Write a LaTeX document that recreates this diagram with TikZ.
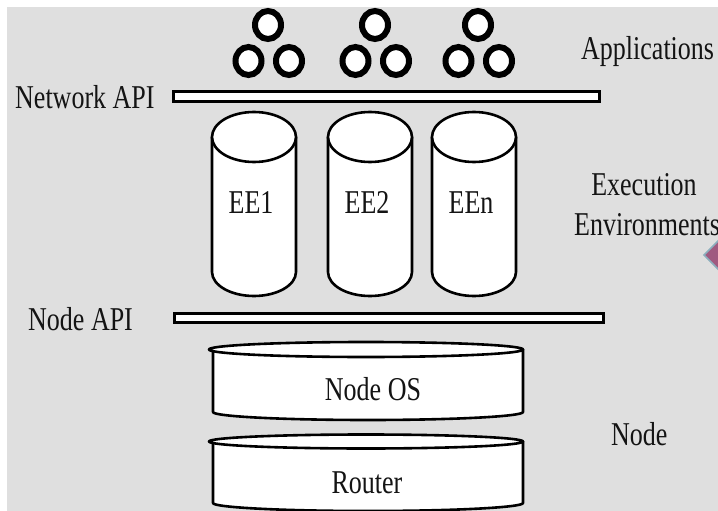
\documentclass[tikz,border=0pt]{standalone}
\usepackage{fontspec}
\setmainfont{Liberation Serif}
\definecolor{bggray}{RGB}{223,223,223}
\definecolor{txtc}{RGB}{20,20,20}
\definecolor{mauve}{RGB}{160,90,128}
\definecolor{mauveedge}{RGB}{140,175,190}
\newcommand{\tallt}[1]{\scalebox{1}[1.28]{#1}}
\tikzset{
  lbl/.style={inner sep=0pt, text=txtc, font=\fontsize{26}{30}\selectfont},
  ring/.style={draw=black, line width=6pt, fill=white},
  apibar/.style={draw=black, line width=3pt, fill=white},
  cyl/.style={draw=black, line width=2.6pt, fill=white, line join=round},
}
\begin{document}
\begin{tikzpicture}[x=1pt,y=-1pt]
\useasboundingbox (0,0) rectangle (718,511);
\fill[white] (0,0) rectangle (718,511);
\fill[bggray] (7,7) rectangle (718,511);
% pink diamond at right edge
\begin{scope}
\clip (0,0) rectangle (718,511);
\fill[black!25] (706,258) -- (724,240) -- (742,258) -- (724,276) -- cycle;
\filldraw[fill=mauve, draw=mauveedge, line width=1.5pt] (704,255) -- (722,237) -- (740,255) -- (722,273) -- cycle;
\end{scope}
% application groups
\foreach \dx in {0,107,210}{
  \draw[ring] (268+\dx,25) ellipse [x radius=13, y radius=14];
  \draw[ring] (248.5+\dx,61) ellipse [x radius=13, y radius=14];
  \draw[ring] (289+\dx,61) ellipse [x radius=13, y radius=14];
}
% Network API bar
\node[lbl, anchor=base west] (napi) at (15,108) {\tallt{Network API}};
\draw[apibar] (173.5,91.5) rectangle (599.5,102);
\node[lbl, anchor=base west] (apps) at (581,60) {\tallt{Applications}};
% EE cylinders
\foreach \cx/\nm/\lab in {254/ee1/EE1, 370/ee2/EE2, 474/een/EEn}{
  \path[cyl] (\cx-42,137) -- (\cx-42,272) arc[start angle=180, end angle=0, x radius=42, y radius=24] -- (\cx+42,137) -- cycle;
  \draw[cyl] (\cx,137) ellipse [x radius=42, y radius=25];
  \node[lbl, anchor=base] (\nm) at (\cx-3,213) {\tallt{\lab}};
}
\node[lbl, anchor=base] (exe1) at (644,195) {\tallt{Execution}};
\node[lbl, anchor=base west] (exe2) at (574,235) {\tallt{Environments}};
% Node API bar
\node[lbl, anchor=base west] (ndapi) at (28,330) {\tallt{Node API}};
\draw[apibar] (174,313.5) rectangle (603,322);
% Node OS cylinder
\path[cyl] (213,349.5) -- (213,412) arc[start angle=180, end angle=0, x radius=155, y radius=8] -- (523,349.5) -- cycle;
\draw[cyl] (366,349.5) ellipse [x radius=157, y radius=7.5];
\node[lbl, anchor=base] (nos) at (373,400) {\tallt{Node OS}};
% Router cylinder
\path[cyl] (213,441.5) -- (213,503) arc[start angle=180, end angle=0, x radius=155, y radius=8] -- (523,441.5) -- cycle;
\draw[cyl] (366,441.5) ellipse [x radius=157, y radius=7];
\node[lbl, anchor=base] (rtr) at (367,493) {\tallt{Router}};
\node[lbl, anchor=base west] (nd) at (611,445) {\tallt{Node}};
\end{tikzpicture}
\end{document}
